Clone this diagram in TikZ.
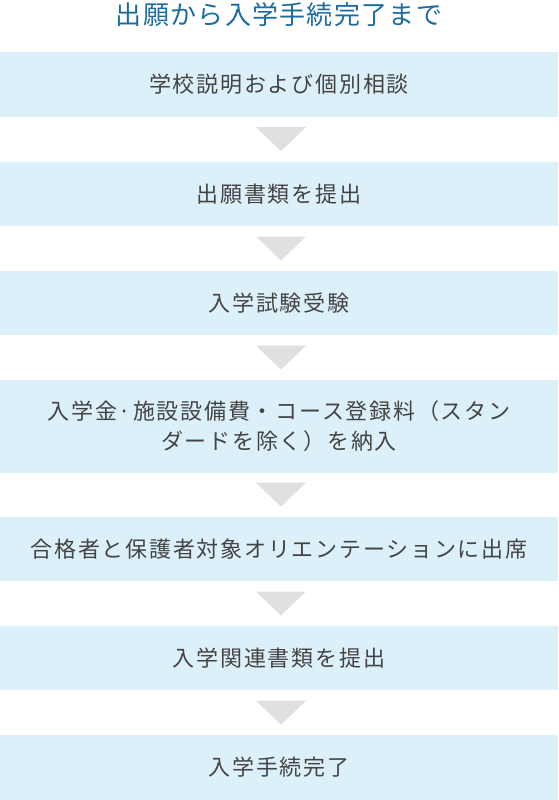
\documentclass[tikz,border=0pt]{standalone}
\usepackage{fontspec}
\newfontfamily\jpfont[LetterSpace=8]{Noto Sans CJK JP}
\newfontfamily\jptitle[LetterSpace=5]{Noto Sans CJK JP}
\usetikzlibrary{calc}
\definecolor{titleblue}{RGB}{28,108,158}
\definecolor{boxblue}{RGB}{220,240,249}
\definecolor{arrowgray}{RGB}{224,224,224}
\definecolor{textgray}{RGB}{68,68,68}
\begin{document}
\begin{tikzpicture}[x=1pt,y=-1pt,
  stepbox/.style={rectangle,fill=boxblue,minimum width=558pt,minimum height=64.7pt,
    inner sep=0pt,text=textgray,font=\jpfont\fontsize{22}{30}\selectfont,align=center}]
\useasboundingbox (0,0) rectangle (558,800);
\node[text=titleblue,font=\jptitle\fontsize{26}{30}\selectfont] (title) at (279,15) {出願から入学手続完了まで};
% steps
\node[stepbox] (s1) at (279,84.35) {学校説明および個別相談};
\node[stepbox] (s2) at (279,194) {出願書類を提出};
\node[stepbox] (s3) at (279,303) {入学試験受験};
\node[stepbox,minimum height=92.7pt] (s4) at (279,426.35) {入学金·施設設備費・コース登録料（スタン\\ダードを除く）を納入};
\node[stepbox] (s5) at (279,549) {合格者と保護者対象オリエンテーションに出席};
\node[stepbox] (s6) at (279,658) {入学関連書類を提出};
\node[stepbox,minimum height=65pt] (s7) at (279,767.5) {入学手続完了};
% arrows
\foreach \a/\b in {s1/s2,s2/s3,s3/s4,s4/s5,s5/s6,s6/s7}
  \fill[arrowgray] ($(\a.south)!0.5!(\b.north)+(-23,-12)$) -- ++(50,0) -- ++(-25,24) -- cycle;
\end{tikzpicture}
\end{document}
